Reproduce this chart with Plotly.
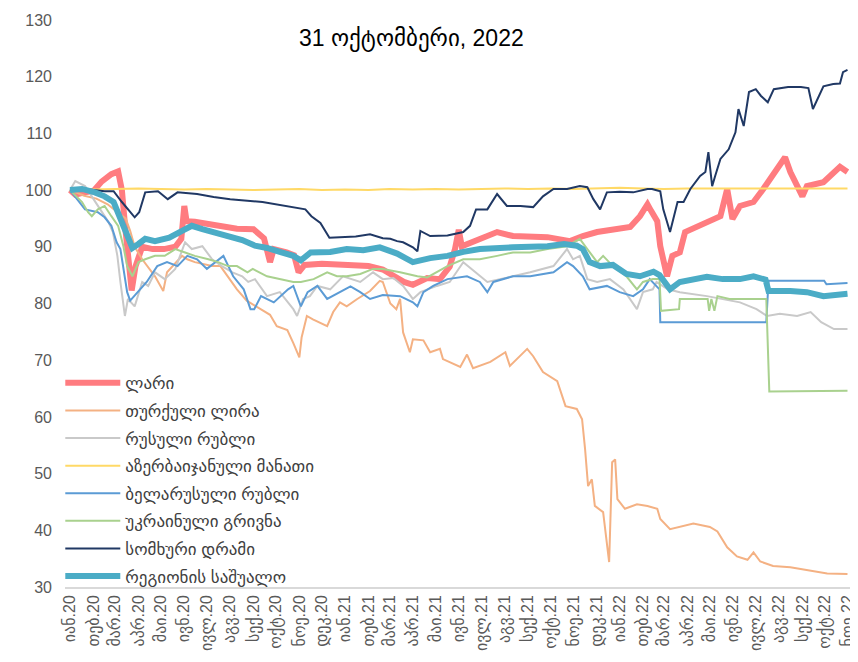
import plotly.graph_objects as go

# ---------------- data (index, start = 100) ----------------
lari_dates = ["2020-01-01","2020-01-08","2020-01-20","2020-02-01","2020-02-12","2020-02-25","2020-03-05","2020-03-10",
              "2020-03-14","2020-03-19","2020-03-23","2020-03-28","2020-04-06","2020-04-20","2020-05-05","2020-05-20",
              "2020-05-28","2020-06-01","2020-06-04","2020-06-15","2020-07-01","2020-07-20","2020-08-10","2020-09-01",
              "2020-09-15","2020-09-23","2020-09-28","2020-10-15","2020-10-25","2020-10-31","2020-11-08","2020-12-01",
              "2021-01-01","2021-02-01","2021-02-20","2021-03-08","2021-03-20","2021-04-01","2021-04-20","2021-05-07",
              "2021-05-20","2021-05-27","2021-06-01","2021-06-05","2021-06-29","2021-07-22","2021-08-12","2021-09-27",
              "2021-10-27","2021-11-13","2021-12-02","2021-12-15","2022-01-15","2022-01-28","2022-02-07","2022-02-12",
              "2022-02-20","2022-02-24","2022-03-05","2022-03-12","2022-03-22","2022-03-29","2022-04-18","2022-04-27",
              "2022-05-15","2022-05-24","2022-05-31","2022-06-10","2022-06-28","2022-07-11","2022-07-30","2022-08-09",
              "2022-08-16","2022-08-25","2022-09-01","2022-09-07","2022-09-29","2022-10-21","2022-10-31"]
lari_values = [100,99.2,99.6,99.8,101.5,102.8,103.3,100,
               94,86,82.3,86.5,90,89.6,89.6,90,
               91.4,97.2,94.5,94.4,94,93.5,93.2,93.1,
               91.5,87.3,89.6,89,88.5,85.5,86.8,87,
               86.8,86.6,86,84.8,83.8,83.3,84.5,84.3,
               86.5,89.6,93,90.1,91.4,92.6,91.9,91.7,
               91,91.9,92.6,92.8,93.5,95.4,97.5,96.3,
               94.5,90.1,84.8,88.4,89,92.6,93.7,94.4,
               95.4,100.2,94.9,97.2,97.9,100.2,103.7,105.8,
               103.2,100.7,98.9,100.7,101.4,104.1,103.2]

try_dates = ["2020-01-01","2020-01-20","2020-02-05","2020-02-20","2020-03-05","2020-03-15","2020-03-21","2020-03-27",
             "2020-04-06","2020-04-23","2020-05-04","2020-05-09","2020-05-29","2020-06-05","2020-06-15","2020-07-08",
             "2020-07-19","2020-08-01","2020-08-10","2020-08-23","2020-09-06","2020-09-23","2020-10-02","2020-10-16",
             "2020-10-24","2020-11-01","2020-11-04","2020-11-11","2020-11-19","2020-11-29","2020-12-08","2020-12-16",
             "2020-12-25","2021-01-03","2021-01-17","2021-02-03","2021-02-16","2021-02-20","2021-03-02","2021-03-10",
             "2021-03-15","2021-03-19","2021-03-28","2021-04-01","2021-04-15","2021-04-24","2021-05-07","2021-05-11",
             "2021-06-03","2021-06-12","2021-06-20","2021-07-13","2021-08-02","2021-08-08","2021-08-31","2021-09-08",
             "2021-09-21","2021-10-10","2021-10-21","2021-11-05","2021-11-12","2021-11-16","2021-11-20","2021-11-25",
             "2021-11-29","2021-12-10","2021-12-15","2021-12-18","2021-12-22","2021-12-26","2021-12-29","2022-01-08",
             "2022-01-24","2022-02-07","2022-02-20","2022-02-24","2022-03-09","2022-03-22","2022-04-09","2022-05-01",
             "2022-05-11","2022-05-24","2022-06-06","2022-06-20","2022-06-28","2022-07-07","2022-07-24","2022-08-16",
             "2022-09-15","2022-10-04","2022-10-31"]
try_values = [100,99,98.5,97.5,96,95,92.8,90,
              87.8,84.8,82.2,85.5,88.4,87.8,87.3,86.6,
              86.6,84.3,82.5,80.5,79.3,78,76,75.3,
              73,70.5,74,77.8,77.2,76.5,76,78.5,
              80.2,79.5,80.8,82.2,84,83.8,80,79,
              80.8,74.9,71.4,73.7,73.5,71.4,72,70.2,
              68.8,71,68.6,69.7,71.4,69,72,70.7,
              67.9,66.3,61.9,61.4,59.6,54.3,47.8,49,
              44.3,43.2,37.2,34.4,52,52.5,45.5,43.8,
              44.6,44.3,43.8,42,40.2,40.6,41.2,40.6,
              39.8,37,35.4,34.8,36.1,34.5,33.7,33.5,
              32.8,32.4,32.3]

rub_dates = ["2020-01-01","2020-01-08","2020-01-21","2020-02-07","2020-02-21","2020-02-27","2020-03-04","2020-03-08",
             "2020-03-14","2020-03-18","2020-03-27","2020-04-06","2020-04-14","2020-04-23","2020-05-06","2020-05-20",
             "2020-06-02","2020-06-11","2020-06-25","2020-07-08","2020-07-21","2020-08-04","2020-08-17","2020-08-25",
             "2020-09-03","2020-09-19","2020-10-06","2020-10-24","2020-10-29","2020-11-06","2020-11-15","2020-11-25",
             "2020-12-12","2020-12-29","2021-01-21","2021-02-07","2021-02-20","2021-03-06","2021-03-19","2021-04-01",
             "2021-04-11","2021-05-03","2021-05-20","2021-06-07","2021-06-29","2021-07-09","2021-08-12","2021-09-04",
             "2021-10-05","2021-10-23","2021-10-31","2021-11-09","2021-11-19","2021-12-02","2021-12-19","2022-01-06",
             "2022-01-24","2022-02-01","2022-02-14","2022-02-19","2022-03-06","2022-03-22","2022-04-27","2022-05-18",
             "2022-06-10","2022-07-02","2022-07-16","2022-08-02","2022-08-25","2022-09-12","2022-09-26","2022-10-13",
             "2022-10-31"]
rub_values = [100,101.6,100.7,97.2,94.4,92.6,88.4,83.8,
              77.8,80.8,79.5,83.8,83.1,85.5,84.3,86.1,
              90.8,89.6,90.1,87.8,86.6,85.5,84.8,83.8,
              84.3,81.3,82,79,77.8,80.8,81.3,83.1,
              82.5,84.8,83.8,85.5,84.3,84.5,83.1,80.8,
              82,83.1,83.8,87.3,84.8,83.8,84.8,85.5,
              86.6,89.6,87.8,88.4,84.3,83.8,84.3,82.5,
              79,82,82.5,83.8,82.5,82,81.3,80.8,
              80.2,79,77.8,78.2,77.8,78.5,76.7,75.5,
              75.5]

azn_dates = ["2020-01-01","2020-02-01","2020-03-01","2020-04-01","2020-05-01","2020-06-01","2020-07-01","2020-08-01",
             "2020-09-01","2020-10-01","2020-11-01","2020-12-01","2021-01-01","2021-02-01","2021-03-01","2021-04-01",
             "2021-05-01","2021-06-01","2021-07-01","2021-08-01","2021-09-01","2021-10-01","2021-11-01","2021-12-01",
             "2022-01-01","2022-02-01","2022-03-01","2022-04-01","2022-05-01","2022-06-01","2022-07-01","2022-08-01",
             "2022-09-01","2022-10-01","2022-10-31"]
azn_values = [100,100.1,100.2,100.3,100.2,100.1,100.2,100.1,
              100,100.1,100.2,100,100.1,100,100.2,100.1,
              100.2,100.1,100.2,100.3,100.2,100.3,100.2,100.3,
              100.4,100.3,100.2,100.3,100.3,100.4,100.3,100.4,
              100.3,100.4,100.3]

byn_dates = ["2020-01-01","2020-01-21","2020-02-07","2020-02-16","2020-02-25","2020-03-03","2020-03-08","2020-03-17",
             "2020-03-21","2020-03-31","2020-04-12","2020-04-26","2020-05-09","2020-05-23","2020-06-05","2020-06-18",
             "2020-07-01","2020-07-23","2020-08-05","2020-08-19","2020-08-28","2020-09-02","2020-09-11","2020-09-28",
             "2020-10-17","2020-10-24","2020-11-03","2020-11-12","2020-11-25","2020-12-08","2020-12-26","2021-01-08",
             "2021-01-21","2021-02-03","2021-02-20","2021-03-15","2021-04-01","2021-04-07","2021-04-15","2021-04-28",
             "2021-05-17","2021-06-12","2021-06-29","2021-07-09","2021-07-17","2021-08-12","2021-09-04","2021-10-05",
             "2021-10-23","2021-10-31","2021-11-13","2021-11-22","2021-12-15","2022-01-01","2022-01-19","2022-02-01",
             "2022-02-10","2022-02-23","2022-02-24","2022-07-15","2022-07-18","2022-09-30","2022-10-03","2022-10-31"]
byn_values = [100,96.6,96.1,95.2,93.7,90.8,89.6,82,
              80.5,82,83.8,86.6,87.3,86.6,88.4,87.8,
              86.1,88.4,84.8,82.5,79,79,81.3,80.2,
              82.5,83.1,79.5,82,83.1,80.8,82,83,
              82,80.8,81.5,81.3,80.2,79.5,82,83.1,
              84.3,84.8,83.8,82,83.8,84.8,84.8,85.5,
              87.3,86.6,84.8,82.5,83.1,82,81.3,82.5,
              84.3,82.5,76.7,76.7,84,84,83.4,83.6]

uah_dates = ["2020-01-01","2020-01-08","2020-01-17","2020-01-25","2020-01-30","2020-02-07","2020-02-16","2020-02-25",
             "2020-03-05","2020-03-12","2020-03-17","2020-03-24","2020-04-01","2020-04-10","2020-04-23","2020-05-06",
             "2020-05-20","2020-06-02","2020-06-15","2020-07-03","2020-07-16","2020-07-29","2020-08-10","2020-08-24",
             "2020-08-31","2020-09-19","2020-10-06","2020-10-24","2020-11-03","2020-11-20","2020-12-08","2020-12-21",
             "2021-01-03","2021-01-21","2021-02-07","2021-02-20","2021-03-15","2021-04-07","2021-04-20","2021-05-03",
             "2021-05-17","2021-06-07","2021-06-29","2021-07-22","2021-08-12","2021-09-04","2021-09-27","2021-10-23",
             "2021-11-09","2021-11-19","2021-12-02","2021-12-10","2021-12-23","2022-01-10","2022-01-24","2022-02-01",
             "2022-02-14","2022-02-23","2022-02-25","2022-03-21","2022-03-22","2022-04-28","2022-04-30","2022-05-03",
             "2022-05-07","2022-05-11","2022-05-27","2022-07-15","2022-07-19","2022-10-31"]
uah_values = [100,99,97.9,96.1,95.4,96.6,97.2,95.4,
              93.7,90.1,86.6,84.8,87.3,87.8,88.4,88.4,
              89.6,89,88.4,87.8,87.3,86.6,86.6,85.5,
              86.1,84.8,84.3,83.8,83.8,84.3,85.5,84.8,
              84.8,85.2,86.1,86.1,85.5,84.8,84.6,85.5,
              86.6,87.8,87.8,88.4,89,89,89.6,90.1,
              91.4,89.6,87.3,88.4,86.6,84.8,82.5,83.8,
              84.3,84.3,78.7,79,80.8,80.8,78.7,80.8,
              78.7,81.3,80.8,80.8,64.5,64.6]

amd_dates = ["2020-01-01","2020-01-21","2020-02-16","2020-02-28","2020-03-10","2020-03-18","2020-03-27","2020-04-02",
             "2020-04-10","2020-04-27","2020-05-10","2020-05-23","2020-06-18","2020-07-10","2020-08-01","2020-09-13",
             "2020-10-16","2020-11-09","2020-11-17","2020-11-29","2020-12-11","2020-12-24","2021-01-15","2021-02-03",
             "2021-02-20","2021-03-02","2021-03-11","2021-03-19","2021-04-01","2021-04-07","2021-04-11","2021-04-24",
             "2021-05-17","2021-06-07","2021-06-16","2021-06-24","2021-07-09","2021-07-22","2021-08-04","2021-08-22",
             "2021-09-08","2021-09-21","2021-10-05","2021-10-23","2021-11-09","2021-11-19","2021-11-27","2021-12-06",
             "2021-12-15","2022-01-01","2022-01-19","2022-02-07","2022-02-13","2022-02-24","2022-02-28","2022-03-09",
             "2022-03-13","2022-03-19","2022-03-27","2022-04-05","2022-04-18","2022-04-25","2022-04-29","2022-05-04",
             "2022-05-08","2022-05-15","2022-05-26","2022-06-04","2022-06-08","2022-06-15","2022-06-22","2022-07-01",
             "2022-07-08","2022-07-17","2022-07-25","2022-08-13","2022-08-30","2022-09-09","2022-09-15","2022-09-21",
             "2022-09-29","2022-10-12","2022-10-21","2022-10-25","2022-10-31"]
amd_values = [100,100.2,99.8,99.8,97.9,96.6,95.2,96.1,
              99.6,99.8,98.4,99.6,99.3,98.8,98.4,97.9,
              97.2,96.6,95.4,94.2,91.6,91.7,91.8,92.2,
              91.5,91.4,91,90.8,89.9,89.2,92.8,91.9,
              92,92.6,93.7,96.6,96.6,99.3,97.2,97.2,
              97,98.9,100.2,100.2,100.7,100.5,98.4,96.6,
              99.6,99.7,99.6,100.2,100.2,99.8,96.6,92.6,
              94.9,97.9,97.9,100.2,102.5,103.2,106.7,100.7,
              102.5,105.5,107.2,110.2,114.3,111.3,117.3,117.8,
              116.6,115.5,117.8,118.2,118.2,118,114.3,116,
              118.3,118.7,118.8,120.8,121.2]

avg_dates = ["2020-01-01","2020-01-17","2020-02-03","2020-02-16","2020-02-28","2020-03-08","2020-03-17","2020-03-24",
             "2020-04-01","2020-04-10","2020-04-23","2020-05-12","2020-05-29","2020-06-11","2020-06-25","2020-07-08",
             "2020-07-29","2020-08-17","2020-09-03","2020-09-19","2020-10-06","2020-10-24","2020-11-03","2020-11-16",
             "2020-12-12","2021-01-03","2021-01-25","2021-02-16","2021-03-11","2021-04-01","2021-04-24","2021-05-17",
             "2021-06-07","2021-06-29","2021-08-12","2021-09-27","2021-10-19","2021-11-05","2021-11-13","2021-11-22",
             "2021-12-06","2021-12-23","2022-01-10","2022-01-28","2022-02-15","2022-02-23","2022-03-09","2022-03-22",
             "2022-04-27","2022-05-18","2022-06-10","2022-06-28","2022-07-14","2022-07-18","2022-08-16","2022-09-07",
             "2022-09-29","2022-10-21","2022-10-31"]
avg_values = [100,100.2,99.6,98.9,97.9,95,91.5,89.8,
              90.5,91.4,91,91.6,92.8,93.7,93.1,92.6,
              91.9,91.2,90.2,89.8,89.1,88.4,87.6,89,
              89.1,89.6,89.4,89.9,88.8,87.3,88,88.4,
              89.1,89.6,89.9,90.1,90.5,90.2,89.6,87.3,
              86.6,86.8,85.2,84.8,85.6,85,82.5,83.8,
              84.7,84.3,84.3,84.8,84.2,82.2,82.2,82,
              81.3,81.4,81.7]

series_names = ["ლარი", "თურქული ლირა", "რუსული რუბლი", "აზერბაიჯანული მანათი",
                "ბელარუსული რუბლი", "უკრაინული გრივნა", "სომხური დრამი", "რეგიონის საშუალო"]
series_dates = [lari_dates, try_dates, rub_dates, azn_dates, byn_dates, uah_dates, amd_dates, avg_dates]
series_values = [lari_values, try_values, rub_values, azn_values, byn_values, uah_values, amd_values, avg_values]

month_abbr = ["იან", "თებ", "მარ", "აპრ", "მაი", "ივნ", "ივლ", "აგვ", "სექ", "ოქტ", "ნოე", "დეკ"]
tick_years = ["20", "21", "22"]
title_text = "31 ოქტომბერი, 2022"

# ---------------- styles ----------------
colors = ["#FF7C80", "#F4B183", "#C9C9C9", "#FFD966", "#5B9BD5", "#A9D18E", "#203864", "#4BACC6"]
widths = [6, 2, 2, 2, 2, 2, 2, 6]

FONT = "Liberation Sans, DejaVu Sans, sans-serif"

fig = go.Figure()
for name, d, v, c, w in zip(series_names, series_dates, series_values, colors, widths):
    fig.add_trace(go.Scatter(x=d, y=v, mode="lines", name=name,
                             line=dict(color=c, width=w, shape="linear"),
                             legendgroup=name))

tickvals, ticktext = [], []
for yy in tick_years:
    for mi, m in enumerate(month_abbr):
        if yy == "22" and mi > 10:
            break
        tickvals.append(f"20{yy}-{mi+1:02d}-01")
        ticktext.append(f"{m}.{yy}")

# page has an 8px body margin, so the figure is 850x654 and offsets are 8px smaller
fig.update_layout(
    width=850, height=654,
    margin=dict(l=57, r=8, t=12, b=75, autoexpand=False),
    paper_bgcolor="white", plot_bgcolor="white",
    font=dict(family=FONT, color="#595959", size=15),
    showlegend=True,
    legend=dict(x=-0.006, y=0.391, xanchor="left", yanchor="top",
                bgcolor="rgba(0,0,0,0)", font=dict(size=17, color="#404040"),
                tracegroupgap=2.5, itemwidth=55),
    annotations=[dict(text=title_text, x=0.442, y=0.968, xref="paper", yref="paper",
                      showarrow=False, font=dict(size=23, color="#000000"),
                      xanchor="center", yanchor="middle")],
)
fig.update_xaxes(type="date", range=["2019-12-25 08:00", "2022-11-03 08:00"],
                 tickvals=tickvals, ticktext=ticktext, tickangle=-90,
                 showgrid=False, zeroline=False, showline=True, linecolor="#D9D9D9", linewidth=1.5,
                 ticks="", tickfont=dict(size=16, color="#595959"), automargin=False)
fig.update_yaxes(range=[30, 130], dtick=10, showgrid=False, zeroline=False, showline=False,
                 ticks="", tickfont=dict(size=16, color="#595959"), automargin=False,
                 ticklabelstandoff=12)

fig.write_html("out.html")
